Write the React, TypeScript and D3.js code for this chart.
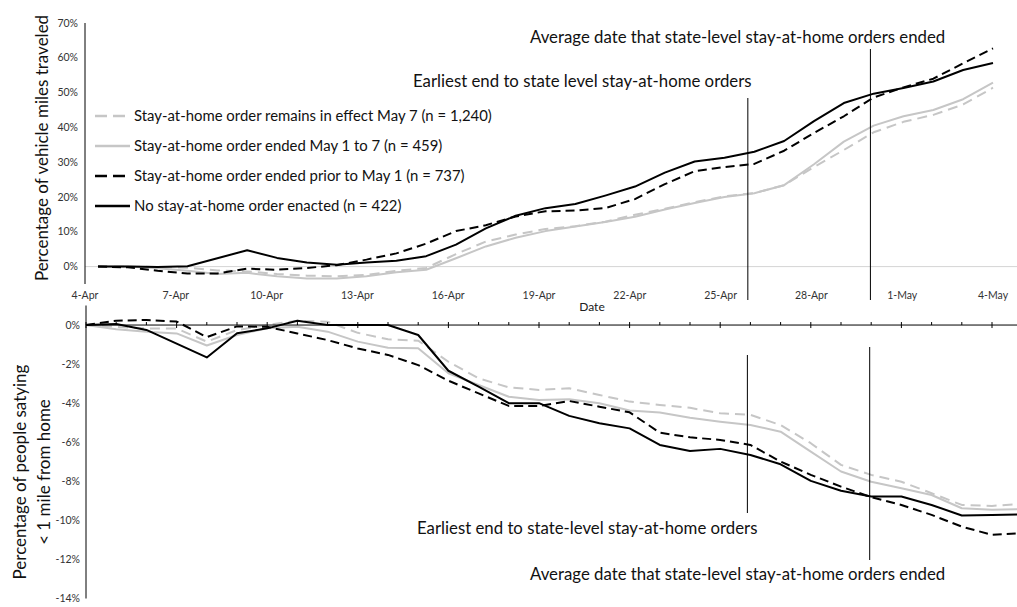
import React from "react";
import * as d3 from "d3";

// days from 4-Apr; 31 days shown on top, bottom continues one day past the crop
const xTickLabels = ["4-Apr", "7-Apr", "10-Apr", "13-Apr", "16-Apr", "19-Apr", "22-Apr", "25-Apr", "28-Apr", "1-May", "4-May"];
const xTickDays = [0, 3, 6, 9, 12, 15, 18, 21, 24, 27, 30];
const topYTicks = [0, 10, 20, 30, 40, 50, 60, 70];
const bottomYTicks = [0, -2, -4, -6, -8, -10, -12, -14];
const refLineDays = [21.9, 25.95];

const legendLabels = [
  "Stay-at-home order remains in effect May 7 (n = 1,240)",
  "Stay-at-home order ended May 1 to 7 (n = 459)",
  "Stay-at-home order ended prior to May 1 (n = 737)",
  "No stay-at-home order enacted (n = 422)",
];

// vehicle miles traveled, % change
const vmtRemains = [0, 0, -0.1, -0.3, -1.1, -1.4, -2.1, -2.6, -2.8, -2.4, -1.2, -0.4, 3.6, 7.2, 9.2, 10.8, 11.6, 12.9, 14.9, 16.6, 18.5, 20.2, 21.1, 23.4, 28.6, 33.5, 38.6, 41.6, 43.6, 46.6, 51.4];
const vmtMay1to7 = [0, 0, -0.5, -1.2, -2.1, -1.8, -2.8, -3.4, -3.4, -2.8, -1.6, -0.9, 2.4, 5.8, 8.3, 10.2, 11.5, 12.8, 14.3, 16.4, 18.3, 20.0, 21.1, 23.4, 29.4, 35.9, 40.5, 43.2, 45.0, 48.1, 52.9];
const vmtPriorMay1 = [0, -0.2, -1.2, -2.0, -2.0, -0.6, -0.9, -0.4, 0.4, 2.0, 3.8, 6.6, 10.2, 11.9, 14.4, 15.9, 16.1, 16.8, 19.4, 23.7, 27.4, 28.6, 29.5, 33.3, 38.4, 43.2, 48.6, 51.5, 54.0, 58.4, 62.7];
const vmtNoOrder = [0, 0, -0.1, 0.1, 2.4, 4.7, 2.5, 1.2, 0.5, 1.2, 1.7, 3.0, 6.3, 11.0, 14.6, 16.8, 18.0, 20.4, 23.0, 27.0, 30.2, 31.3, 33.0, 36.1, 41.8, 47.0, 49.7, 51.3, 53.2, 56.5, 58.5];

// people staying < 1 mile from home, % change
const homeRemains = [0, -0.09, -0.17, -0.18, -0.85, -0.26, 0, 0.22, 0.17, -0.4, -0.73, -0.8, -1.88, -2.73, -3.19, -3.32, -3.24, -3.58, -3.92, -4.09, -4.24, -4.52, -4.6, -5.12, -6.05, -7.16, -7.67, -8.02, -8.61, -9.21, -9.26, -9.16];
const homeMay1to7 = [0, -0.22, -0.34, -0.43, -1.05, -0.51, -0.17, -0.09, -0.34, -0.85, -1.16, -1.19, -2.47, -3.07, -3.67, -3.84, -3.8, -4.0, -4.38, -4.48, -4.75, -4.95, -5.12, -5.46, -6.48, -7.5, -8.02, -8.36, -8.7, -9.38, -9.46, -9.43];
const homePriorMay1 = [0, 0.22, 0.26, 0.18, -0.62, -0.07, -0.09, -0.43, -0.77, -1.2, -1.53, -2.05, -2.85, -3.5, -4.14, -4.14, -3.89, -4.18, -4.47, -5.51, -5.75, -5.88, -6.14, -6.99, -7.67, -8.27, -8.81, -9.21, -9.72, -10.32, -10.74, -10.66];
const homeNoOrder = [0, 0.05, -0.25, -0.95, -1.66, -0.42, -0.17, 0.22, 0, 0, 0, -0.51, -2.34, -3.15, -4.0, -4.0, -4.65, -5.03, -5.29, -6.14, -6.45, -6.34, -6.65, -7.13, -7.98, -8.48, -8.78, -8.78, -9.21, -9.75, -9.72, -9.7];

const GRAY = "#c6c6c6";
const FONT = "Lato, 'Open Sans', sans-serif";

const series = [
  { label: legendLabels[0], color: GRAY, dash: "10,6", legendDash: "12,6", top: vmtRemains, bottom: homeRemains },
  { label: legendLabels[1], color: GRAY, dash: null, legendDash: null, top: vmtMay1to7, bottom: homeMay1to7 },
  { label: legendLabels[2], color: "#000", dash: "9,5", legendDash: "12,6", top: vmtPriorMay1, bottom: homePriorMay1 },
  { label: legendLabels[3], color: "#000", dash: null, legendDash: null, top: vmtNoOrder, bottom: homeNoOrder },
];

export default function App() {
  const W = 1017, H = 607;

  const xLab = d3.scaleLinear().domain([0, 30]).range([85, 993]);
  const xTopPts = d3.scaleLinear().domain([0, 30]).range([98, 993]);
  const xBot = d3.scaleLinear().domain([0, 30]).range([86, 992]);
  const yTop = d3.scaleLinear().domain([-5, 70]).range([284, 23]);
  const yBot = d3.scaleLinear().domain([-14, 1]).range([598.5, 305.5]);

  const topLine = d3.line<number>().x((_, i) => xTopPts(i)).y(v => yTop(v));
  const botLine = d3.line<number>().x((_, i) => xBot(i)).y(v => yBot(v));

  const legendY = [116, 146, 176, 206];
  const days = d3.range(0, 32);

  return (
    <svg width={W} height={H} style={{ position: "absolute", left: 0, top: 0, background: "#fff" }} fontFamily={FONT}>
      {/* ---- top chart ---- */}
      <line x1={85} x2={W} y1={yTop(0)} y2={yTop(0)} stroke="#d4d4d4" strokeWidth={1} />
      <line x1={85} x2={85} y1={yTop(70)} y2={yTop(-5)} stroke="#000" strokeWidth={1} />
      {topYTicks.map(t => (
        <text key={t} x={78} y={yTop(t)} dy="0.35em" textAnchor="end" fontSize={10.5} fill="#333">{t}%</text>
      ))}
      {xTickDays.map((d, i) => (
        <text key={d} x={xLab(d)} y={295} dy="0.35em" textAnchor="middle" fontSize={10.5} fill="#333">{xTickLabels[i]}</text>
      ))}
      <text x={592} y={307} dy="0.35em" textAnchor="middle" fontSize={12} fill="#202020">Date</text>
      <text transform={`translate(42,148) rotate(-90)`} textAnchor="middle" dy="0.35em" fontSize={17} fill="#111">Percentage of vehicle miles traveled</text>

      {series.map((s, i) => (
        <path key={"t" + i} d={topLine(s.top) || ""} fill="none" stroke={s.color} strokeWidth={2}
          strokeDasharray={s.dash || undefined} strokeLinejoin="round" />
      ))}

      <line x1={xLab(refLineDays[0])} x2={xLab(refLineDays[0])} y1={98} y2={300} stroke="#000" strokeWidth={1} />
      <line x1={xLab(refLineDays[1])} x2={xLab(refLineDays[1])} y1={49} y2={300} stroke="#000" strokeWidth={1} />
      <text x={530} y={37} dy="0.35em" fontSize={16.8} fill="#111">Average date that state-level stay-at-home orders ended</text>
      <text x={413} y={81} dy="0.35em" fontSize={16.8} fill="#111">Earliest end to state level stay-at-home orders</text>

      {series.map((s, i) => (
        <g key={"l" + i}>
          <line x1={95} x2={s.legendDash ? 125 : 130} y1={legendY[i]} y2={legendY[i]} stroke={s.color}
            strokeWidth={2.5} strokeDasharray={s.legendDash || undefined} />
          <text x={134} y={legendY[i]} dy="0.35em" fontSize={14.9} fill="#111">{s.label}</text>
        </g>
      ))}

      {/* ---- bottom chart ---- */}
      <line x1={86} x2={86} y1={yBot(1)} y2={yBot(-14)} stroke="#000" strokeWidth={1} />
      {bottomYTicks.map(t => (
        <text key={t} x={80} y={yBot(t)} dy="0.35em" textAnchor="end" fontSize={10.5} fill="#333">{t}%</text>
      ))}
      <g transform="translate(0,472)">
        <text transform="translate(20,0) rotate(-90)" textAnchor="middle" dy="0.35em" fontSize={17} fill="#111">Percentage of people satying</text>
        <text transform="translate(44,0) rotate(-90)" textAnchor="middle" dy="0.35em" fontSize={17} fill="#111">&lt; 1 mile from home</text>
      </g>

      {series.map((s, i) => (
        <path key={"b" + i} d={botLine(s.bottom) || ""} fill="none" stroke={s.color} strokeWidth={2}
          strokeDasharray={s.dash || undefined} strokeLinejoin="round" />
      ))}

      <line x1={86} x2={W} y1={yBot(0)} y2={yBot(0)} stroke="#000" strokeWidth={1} />
      {days.map(d => (
        <line key={d} x1={xBot(d)} x2={xBot(d)} y1={yBot(0) - 3} y2={yBot(0) + (d % 3 === 0 ? 3 : 0)} stroke="#000" strokeWidth={1} />
      ))}

      <line x1={xBot(refLineDays[0])} x2={xBot(refLineDays[0])} y1={355} y2={513} stroke="#000" strokeWidth={1} />
      <line x1={xBot(refLineDays[1])} x2={xBot(refLineDays[1])} y1={347} y2={560} stroke="#000" strokeWidth={1} />
      <text x={417} y={528} dy="0.35em" fontSize={16.8} fill="#111">Earliest end to state-level stay-at-home orders</text>
      <text x={530} y={574} dy="0.35em" fontSize={16.8} fill="#111">Average date that state-level stay-at-home orders ended</text>
    </svg>
  );
}
